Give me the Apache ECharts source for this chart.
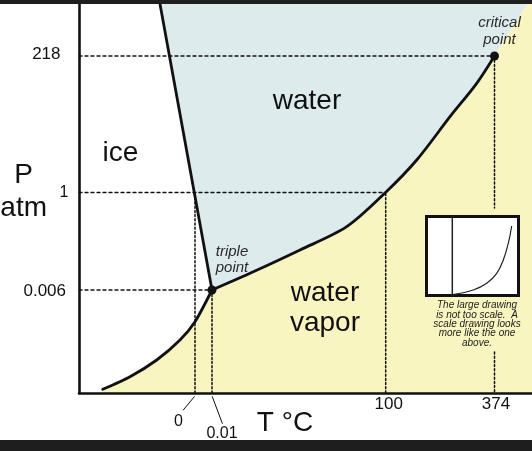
<!DOCTYPE html>
<html>
<head>
<meta charset="utf-8">
<script src="https://cdn.jsdelivr.net/npm/echarts@6/dist/echarts.min.js"></script>
<style>html,body{margin:0;padding:0;background:#fff}#c{width:532px;height:451px}</style>
</head>
<body>
<div id="c"></div>
<script>
// Schematic phase diagram (not to scale): coordinates are schematic units of the drawing
const meltingCurve = [[81, 389], [133, 103]];
const sublimationCurve = [[23.7, 3.7], [51, 16.3], [77.7, 33], [101, 53], [116, 71.3], [133, 103]];
const vaporizationCurve = [[133, 103], [171, 119.7], [221, 143], [267.7, 166.3], [306.5, 200.5], [337.7, 233], [371, 276.3], [397.7, 309.7], [415.5, 337]];
const supercriticalEdge = [[415.5, 337], [448, 389]];
const triplePoint = [133, 103];
const criticalPoint = [415.5, 337];

// axis ticks
const pressureTickLabels = ['218', '1', '0.006'];
const pressureTickPos = [337, 200.5, 103];
const tempTickLabels = ['0', '0.01', '100', '374'];
const tempTickPos = [116, 133, 306.7, 415.5];

// inset (to-scale sketch)
const insetVertical = [[25.8, 0], [25.8, 79]];
const insetCurve = [[26.5, 1], [46.8, 5.5], [60.2, 12.2], [70.2, 22.2], [76.8, 35.5], [81.8, 52.2], [85.2, 69.5]];
const insetCaption = 'The large drawing\nis not too scale.  A\nscale drawing looks\nmore like the one\nabove.';

const F = '"Liberation Sans", Arial, Helvetica, sans-serif';
const INK = '#111111';
const BLUE = '#ddebec';
const YELLOW = '#f8f5c0';

// derived geometry
const waterRegion = [meltingCurve[0]].concat(vaporizationCurve, [supercriticalEdge[1]]);
const vaporRegion = [[sublimationCurve[0][0], 0]].concat(sublimationCurve, vaporizationCurve.slice(1), [supercriticalEdge[1], [453, 389], [453, 0]]);

const hDotted = [
  [[0, pressureTickPos[0]], criticalPoint],
  [[0, pressureTickPos[1]], [tempTickPos[2], pressureTickPos[1]]],
  [[0, pressureTickPos[2]], triplePoint]
];
const vDotted = [
  [[tempTickPos[0], 0], [tempTickPos[0], pressureTickPos[1]]],
  [[tempTickPos[1], 0], triplePoint],
  [[tempTickPos[2], 0], [tempTickPos[2], pressureTickPos[1]]],
  [criticalPoint, [tempTickPos[3], 185]],
  [[tempTickPos[3], 41], [tempTickPos[3], 0]]
];

function polySeries(pts, color) {
  return {
    type: 'custom', xAxisIndex: 0, yAxisIndex: 0, z: 1, silent: true, clip: false,
    data: pts,
    renderItem: function (params, api) {
      if (params.dataIndex !== 0) return;
      return {
        type: 'polygon',
        shape: { points: pts.map(p => api.coord(p)) },
        style: { fill: color }
      };
    }
  };
}
function lineSeries(data, w, dash, z, smooth, color) {
  return {
    type: 'line', xAxisIndex: 0, yAxisIndex: 0, data: data, symbol: 'none', clip: false,
    smooth: smooth || false, silent: true, z: z,
    lineStyle: { color: color || INK, width: w, type: dash || 'solid', cap: 'round', join: 'round' }
  };
}
function txt(text, pos, style) {
  return {
    value: pos,
    label: Object.assign({
      show: true, formatter: text, position: 'inside', color: INK, fontFamily: F,
      fontSize: 28, align: 'center', verticalAlign: 'middle', opacity: 1,
      textBorderWidth: 0, textBorderColor: 'transparent', textShadowBlur: 0
    }, style)
  };
}

const labels = [
  txt('ice', [41.5, 239.5], {}),
  txt('water', [228, 292], {}),
  txt('water\nvapor', [246, 84.5], { lineHeight: 30 }),
  txt('triple\npoint', [153, 133.3], { fontSize: 15, fontStyle: 'italic', lineHeight: 16.6, color: '#2a2a2a' }),
  txt('critical\npoint', [420.5, 361.7], { fontSize: 15, fontStyle: 'italic', lineHeight: 16.7, color: '#2a2a2a' }),
  txt('P\natm', [-55.3, 201.5], { lineHeight: 33 }),
  txt('T °C', [206, -30.5], {}),
  txt(pressureTickLabels[0], [-18.5, pressureTickPos[0] + 1.5], { fontSize: 17, align: 'right' }),
  txt(pressureTickLabels[1], [-10.7, pressureTickPos[1]], { fontSize: 16, align: 'right' }),
  txt(pressureTickLabels[2], [-13, pressureTickPos[2] - 1.7], { fontSize: 17, align: 'right' }),
  txt(tempTickLabels[0], [tempTickPos[0] - 16.5, -28.7], { fontSize: 16 }),
  txt(tempTickLabels[1], [tempTickPos[1] + 10, -40.3], { fontSize: 16 }),
  txt(tempTickLabels[2], [tempTickPos[2] + 3, -11.7], { fontSize: 17 }),
  txt(tempTickLabels[3], [tempTickPos[3] + 1.5, -11.7], { fontSize: 17 }),
  txt(insetCaption, [398, 68.8], { fontSize: 10, fontStyle: 'italic', lineHeight: 9.3, color: '#1c1c1c' })
];

const series = [
  polySeries(waterRegion, BLUE),
  polySeries(vaporRegion, YELLOW)
];
hDotted.forEach(d => series.push(lineSeries(d, 1.3, [3, 3], 2)));
vDotted.forEach(d => series.push(lineSeries(d, 1.5, [2, 2.2], 2)));
series.push(lineSeries([[tempTickPos[0] - 0.7, -3.7], [tempTickPos[0] - 11.7, -17]], 1, 'solid', 2));
series.push(lineSeries([[tempTickPos[1] + 0.3, -3.7], [tempTickPos[1] + 10.3, -30.3]], 1, 'solid', 2));
series.push(lineSeries(meltingCurve, 2.8, 'solid', 3));
series.push(lineSeries(sublimationCurve, 2.8, 'solid', 3, 0.25));
series.push(lineSeries(vaporizationCurve, 2.8, 'solid', 3, 0.3));
series.push({
  type: 'scatter', xAxisIndex: 0, yAxisIndex: 0, data: [triplePoint, criticalPoint],
  symbolSize: 9, itemStyle: { color: INK, opacity: 1 }, z: 4, silent: true, clip: false
});
series.push({
  type: 'scatter', xAxisIndex: 0, yAxisIndex: 0, data: labels, symbolSize: 0,
  itemStyle: { color: '#000', opacity: 1 },
  z: 5, silent: true, clip: false
});
// inset
series.push({
  type: 'line', xAxisIndex: 1, yAxisIndex: 1, data: insetVertical, symbol: 'none', z: 11, silent: true,
  lineStyle: { color: '#222', width: 1.5 }
});
series.push({
  type: 'line', xAxisIndex: 1, yAxisIndex: 1, data: insetCurve, symbol: 'none', smooth: 0.4, z: 11, silent: true,
  lineStyle: { color: '#222', width: 1.2 }
});

const chart = echarts.init(document.getElementById('c'), null, { renderer: 'canvas' });
chart.setOption({
  animation: false,
  backgroundColor: '#fff',
  grid: [
    { left: 79, top: 4, width: 453, height: 389, containLabel: false },
    { left: 426.5, top: 216.5, width: 92, height: 79, show: true, backgroundColor: '#fff', borderColor: '#111', borderWidth: 3, z: 10 }
  ],
  xAxis: [
    { type: 'value', gridIndex: 0, min: 0, max: 453, axisLine: { show: true, onZero: false, lineStyle: { color: INK, width: 2.6 } }, axisTick: { show: false }, axisLabel: { show: false }, splitLine: { show: false }, z: 6 },
    { type: 'value', gridIndex: 1, min: 0, max: 92, show: false }
  ],
  yAxis: [
    { type: 'value', gridIndex: 0, min: 0, max: 389, axisLine: { show: true, onZero: false, lineStyle: { color: INK, width: 2.6 } }, axisTick: { show: false }, axisLabel: { show: false }, splitLine: { show: false }, z: 6 },
    { type: 'value', gridIndex: 1, min: 0, max: 79, show: false }
  ],
  graphic: [
    { type: 'rect', shape: { x: 0, y: 0, width: 532, height: 4 }, style: { fill: '#1e1e1e' }, z: 100 },
    { type: 'rect', shape: { x: 0, y: 440, width: 532, height: 11 }, style: { fill: '#1e1e1e' }, z: 100 }
  ],
  series: series
});
</script>
</body>
</html>
